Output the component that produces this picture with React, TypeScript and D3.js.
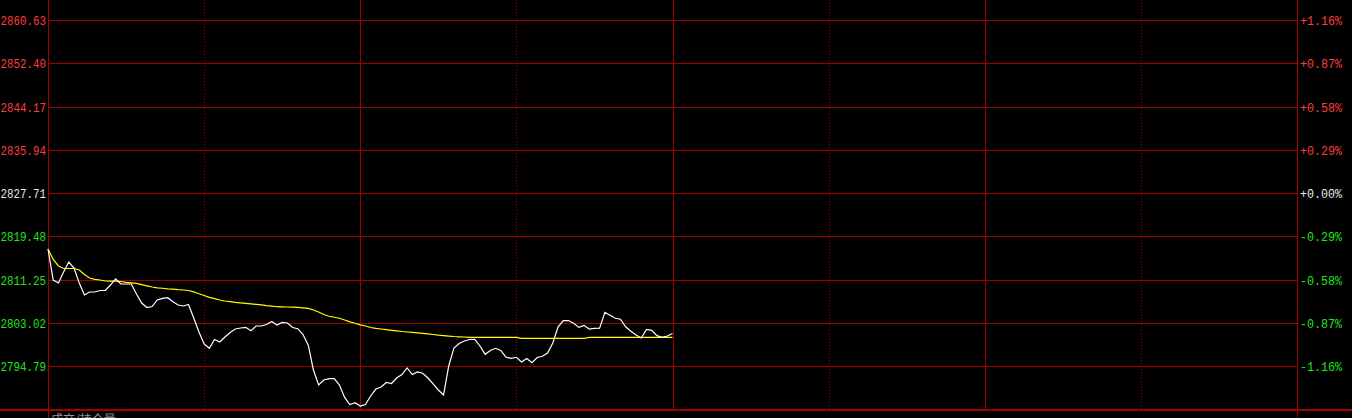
import React, { useEffect, useRef } from 'react';
import * as d3 from 'd3';

// price axis ticks (left) and change ticks (right)
const priceTicks = [2860.63, 2852.4, 2844.17, 2835.94, 2827.71, 2819.48, 2811.25, 2803.02, 2794.79];
const pctTicks = ['+1.16%', '+0.87%', '+0.58%', '+0.29%', '+0.00%', '-0.29%', '-0.58%', '-0.87%', '-1.16%'];
const preClose = 2827.71;

// minute index of the vertical grid lines (0 = open, 240 = close)
const hourMarks = [60, 120, 180];
const halfHourMarks = [30, 90, 150, 210];

// morning session, one value per minute
const priceSeries = [
  2817.05, 2811.15, 2810.58, 2812.68, 2814.58, 2813.44, 2810.58, 2808.3, 2808.87, 2808.87,
  2809.16, 2809.16, 2810.2, 2811.35, 2810.39, 2810.39, 2810.39, 2808.49, 2806.78, 2805.92,
  2806.11, 2807.35, 2807.67, 2807.79, 2807.01, 2806.4, 2806.21, 2806.49, 2803.92, 2801.26,
  2798.98, 2798.16, 2799.83, 2799.36, 2800.31, 2801.17, 2801.83, 2802.02, 2802.15, 2801.51,
  2802.4, 2802.4, 2802.69, 2803.26, 2802.59, 2803.07, 2802.97, 2802.12, 2801.89, 2800.78,
  2798.79, 2794.03, 2791.17, 2792.13, 2792.37, 2792.41, 2791.17, 2788.8, 2787.46, 2787.81,
  2787.18, 2787.46, 2789.08, 2790.41, 2790.79, 2791.65, 2791.46, 2792.51, 2793.17, 2794.41,
  2793.17, 2793.65, 2793.42, 2792.51, 2791.37, 2790.22, 2789.27, 2794.79, 2798.21, 2799.07,
  2799.55, 2799.83, 2799.87, 2798.6, 2797.02, 2797.74, 2798.16, 2797.74, 2796.46, 2796.26,
  2796.45, 2795.55, 2796.22, 2795.4, 2796.41, 2796.65, 2797.26, 2799.17, 2802.21, 2803.43,
  2803.45, 2802.92, 2802.14, 2802.52, 2801.83, 2801.95, 2801.97, 2805.01, 2804.44, 2803.87,
  2803.7, 2802.25, 2801.41, 2800.69, 2800.12, 2801.74, 2801.58, 2800.56, 2800.25, 2800.5,
  2800.97,
];

const avgSeries = [
  2817.05, 2815.06, 2813.82, 2813.34, 2813.34, 2813.34, 2813.06, 2812.2, 2811.54, 2811.29,
  2811.15, 2810.96, 2810.93, 2810.93, 2810.87, 2810.72, 2810.62, 2810.51, 2810.28, 2810.05,
  2809.82, 2809.67, 2809.58, 2809.46, 2809.4, 2809.31, 2809.25, 2809.16, 2808.91, 2808.53,
  2808.21, 2807.86, 2807.6, 2807.35, 2807.16, 2807.03, 2806.91, 2806.82, 2806.72, 2806.63,
  2806.53, 2806.42, 2806.28, 2806.17, 2806.07, 2806.04, 2806.02, 2805.98, 2805.94, 2805.85,
  2805.75, 2805.45, 2805.07, 2804.59, 2804.25, 2804.06, 2803.87, 2803.54, 2803.2, 2802.92,
  2802.63, 2802.4, 2802.12, 2801.96, 2801.83, 2801.7, 2801.58, 2801.47, 2801.35, 2801.26,
  2801.17, 2801.09, 2801.01, 2800.9, 2800.78, 2800.65, 2800.56, 2800.48, 2800.4, 2800.35,
  2800.31, 2800.25, 2800.25, 2800.25, 2800.25, 2800.25, 2800.25, 2800.25, 2800.25, 2800.25,
  2800.25, 2800.06, 2800.06, 2800.06, 2800.06, 2800.06, 2800.06, 2800.06, 2800.06, 2800.06,
  2800.06, 2800.06, 2800.06, 2800.06, 2800.25, 2800.25, 2800.25, 2800.25, 2800.25, 2800.25,
  2800.25, 2800.25, 2800.25, 2800.25, 2800.25, 2800.25, 2800.25, 2800.25, 2800.25, 2800.25,
  2800.25,
];

const GRID = '#a00000';
const UP = '#ff3c3c';
const DOWN = '#1ee61e';
const FLAT = '#e8e8e8';

const TimeShareChart: React.FC = () => {
  const ref = useRef<SVGSVGElement>(null);

  useEffect(() => {
    if (!ref.current) return;
    const svg = d3.select(ref.current);
    svg.selectAll('*').remove();

    const width = 1352;
    const height = 418;
    const left = 48;
    const right = 1297;
    const top = 20;
    const bottom = 410;

    const x = d3.scaleLinear().domain([0, 240]).range([left, right]);
    const y = d3
      .scaleLinear()
      .domain([priceTicks[priceTicks.length - 1], priceTicks[0]])
      .range([top + 8 * 43.25, top]);

    svg.append('rect').attr('width', width).attr('height', height).attr('fill', '#000');

    const colorOf = (v: number) => (v > preClose + 1e-6 ? UP : v < preClose - 1e-6 ? DOWN : FLAT);

    // horizontal grid
    svg
      .append('g')
      .selectAll('line')
      .data(priceTicks)
      .join('line')
      .attr('x1', left)
      .attr('x2', right)
      .attr('y1', (d) => Math.round(y(d)) + 0.5)
      .attr('y2', (d) => Math.round(y(d)) + 0.5)
      .attr('stroke', GRID);

    // dotted half-hour lines
    svg
      .append('g')
      .selectAll('line')
      .data(halfHourMarks)
      .join('line')
      .attr('x1', (d) => Math.round(x(d)) + 0.5)
      .attr('x2', (d) => Math.round(x(d)) + 0.5)
      .attr('y1', 0)
      .attr('y2', bottom - 1)
      .attr('stroke', GRID)
      .attr('stroke-dasharray', '1,2');

    // solid hour lines
    svg
      .append('g')
      .selectAll('line')
      .data(hourMarks)
      .join('line')
      .attr('x1', (d) => Math.round(x(d)) + 0.5)
      .attr('x2', (d) => Math.round(x(d)) + 0.5)
      .attr('y1', 0)
      .attr('y2', bottom - 1)
      .attr('stroke', GRID);

    // frame: left/right axis lines and thick bottom line
    [left, right].forEach((px) => {
      svg
        .append('line')
        .attr('x1', px + 0.5)
        .attr('x2', px + 0.5)
        .attr('y1', 0)
        .attr('y2', height)
        .attr('stroke', GRID);
    });
    svg
      .append('line')
      .attr('x1', 0)
      .attr('x2', width)
      .attr('y1', bottom)
      .attr('y2', bottom)
      .attr('stroke', GRID)
      .attr('stroke-width', 2);

    const font = '"Liberation Mono", "DejaVu Sans Mono", monospace';

    // left price labels
    svg
      .append('g')
      .selectAll('text')
      .data(priceTicks)
      .join('text')
      .attr('x', 46)
      .attr('y', (d) => Math.round(y(d)) + 5)
      .attr('text-anchor', 'end')
      .attr('font-family', font)
      .attr('font-size', 12.5)
      .attr('textLength', 45.5)
      .attr('lengthAdjust', 'spacingAndGlyphs')
      .attr('fill', (d) => colorOf(d))
      .text((d) => d.toFixed(2));

    // right percent labels
    svg
      .append('g')
      .selectAll('text')
      .data(priceTicks)
      .join('text')
      .attr('x', right + 3)
      .attr('y', (d) => Math.round(y(d)) + 5)
      .attr('font-family', font)
      .attr('font-size', 12.5)
      .attr('textLength', 42)
      .attr('lengthAdjust', 'spacingAndGlyphs')
      .attr('fill', (d) => colorOf(d))
      .text((_, i) => pctTicks[i]);

    // average price line
    const line = d3
      .line<number>()
      .x((_, i) => x(i))
      .y((d) => y(d));

    svg
      .append('path')
      .datum(avgSeries)
      .attr('d', line)
      .attr('fill', 'none')
      .attr('stroke', '#ffff00')
      .attr('stroke-width', 1.2);

    // price line
    svg
      .append('path')
      .datum(priceSeries)
      .attr('d', line)
      .attr('fill', 'none')
      .attr('stroke', '#ffffff')
      .attr('stroke-width', 1.2);

    // volume pane title (cut off at the bottom)
    svg
      .append('text')
      .attr('x', left + 3)
      .attr('y', bottom + 14)
      .attr('font-family', '"Noto Sans CJK SC", sans-serif')
      .attr('font-size', 12)
      .attr('fill', '#9a9a9a')
      .text('成交/持仓量');
  }, []);

  return <svg ref={ref} width={1352} height={418} style={{ display: 'block' }} />;
};

export default function App() {
  return (
    <div style={{ position: 'absolute', left: 0, top: 0, width: 1352, height: 418, background: '#000' }}>
      <TimeShareChart />
    </div>
  );
}
